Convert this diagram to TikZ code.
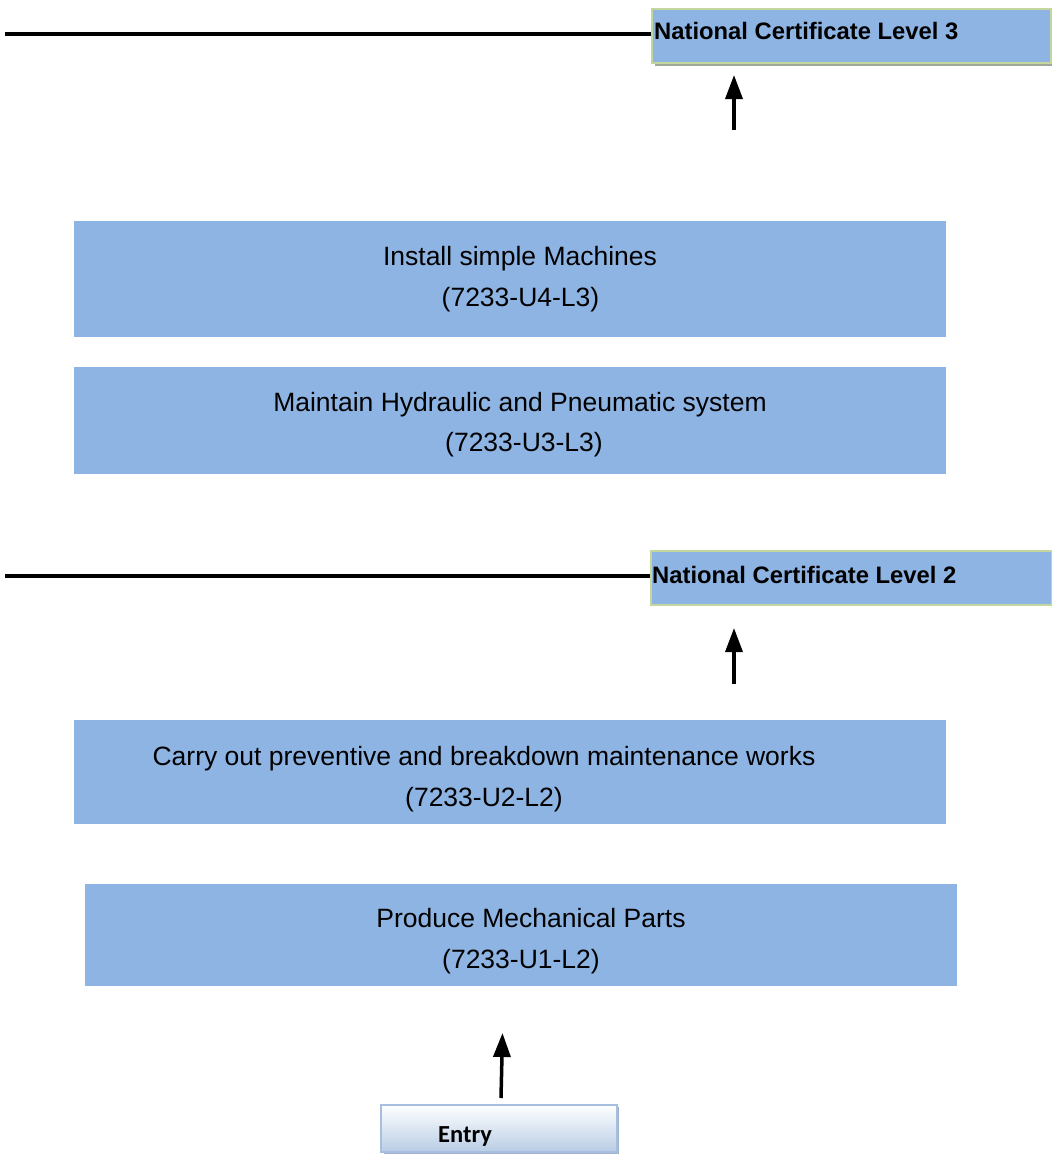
\documentclass[tikz,border=0pt]{standalone}
\usepackage{fontspec}
\setmainfont{Liberation Sans}
\newfontfamily\calibri{Carlito}
\usetikzlibrary{arrows.meta,shadows}
\definecolor{boxblue}{HTML}{8EB4E3}
\definecolor{ncborder}{HTML}{C3D69B}
\definecolor{entryborder}{HTML}{A7BFDE}
\definecolor{entrybottom}{HTML}{B9CDE5}
\definecolor{shadowgray}{HTML}{A0A89A}
\tikzset{
  unitbox/.style={rectangle, fill=boxblue, draw=none, anchor=north west, inner sep=0pt},
  ncbox/.style={rectangle, fill=boxblue, draw=ncborder, line width=2pt, anchor=north west, inner sep=0pt},
  lbl/.style={anchor=base, inner sep=0pt, font=\fontsize{26.5}{30}\selectfont},
  nclbl/.style={anchor=base west, inner sep=0pt, font=\fontsize{23.8}{28}\selectfont\bfseries},
  levelline/.style={line width=4.5pt},
  uparrow/.style={line width=3.5pt, -{Triangle[length=24pt,width=17pt]}},
}
\begin{document}
\begin{tikzpicture}[x=1pt,y=-1pt]
\useasboundingbox (0,0) rectangle (1052,1154);
% NC Level 3
\fill[shadowgray] (655,12) rectangle (1052,66);
\node[ncbox, minimum width=399pt, minimum height=54pt] (nc3) at (651,8) {};
\node[nclbl] (nc3t) at (654,39) {National Certificate Level 3};
\coordinate (l3start) at (5,34);
\draw[levelline] (l3start) -- (nc3.west |- l3start);
\coordinate (a1s) at (734,130);
\coordinate (a1e) at (734,75);
\draw[uparrow] (a1s) -- (a1e);
% U4
\node[unitbox, minimum width=872pt, minimum height=116pt] (u4) at (74,221) {};
\node[lbl] (u4a) at (520,265) {Install simple Machines};
\node[lbl] (u4b) at (520.5,306) {(7233-U4-L3)};
% U3
\node[unitbox, minimum width=872pt, minimum height=107pt] (u3) at (74,367) {};
\node[lbl] (u3a) at (520,411) {Maintain Hydraulic and Pneumatic system};
\node[lbl] (u3b) at (524,451) {(7233-U3-L3)};
% NC Level 2
\node[ncbox, minimum width=401pt, minimum height=54pt] (nc2) at (650,550) {};
\node[nclbl] (nc2t) at (652,583) {National Certificate Level 2};
\coordinate (l2start) at (5,576);
\draw[levelline] (l2start) -- (nc2.west |- l2start);
\coordinate (a2s) at (734,684);
\coordinate (a2e) at (734,628);
\draw[uparrow] (a2s) -- (a2e);
% U2
\node[unitbox, minimum width=872pt, minimum height=104pt] (u2) at (74,720) {};
\node[lbl] (u2a) at (484,765) {Carry out preventive and breakdown maintenance works};
\node[lbl] (u2b) at (484,806) {(7233-U2-L2)};
% U1
\node[unitbox, minimum width=872pt, minimum height=102pt] (u1) at (85,884) {};
\node[lbl] (u1a) at (531,927) {Produce Mechanical Parts};
\node[lbl] (u1b) at (521,968) {(7233-U1-L2)};
% Entry
\fill[entryborder!80!gray] (384,1107) rectangle (619,1154);
\node[rectangle, anchor=north west, inner sep=0pt, minimum width=236pt, minimum height=47pt,
      top color=white, bottom color=entrybottom, draw=entryborder, line width=1.5pt] (entry) at (380,1104) {};
\node[anchor=base west, inner sep=0pt, font=\calibri\fontsize{24.5}{28}\selectfont\bfseries] (entryt) at (438,1142) {Entry};
\coordinate (a3s) at (501,1098);
\coordinate (a3e) at (502.5,1033);
\draw[uparrow] (a3s) -- (a3e);
\end{tikzpicture}
\end{document}
